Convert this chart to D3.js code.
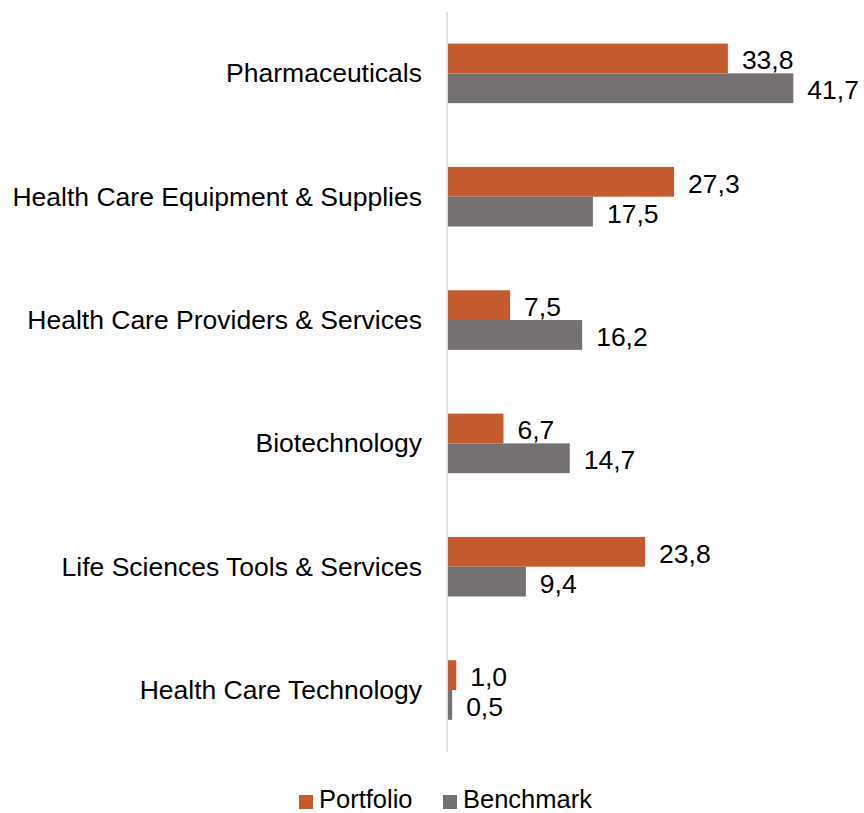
<!DOCTYPE html>
<html>
<head>
<meta charset="utf-8">
<script src="https://cdn.jsdelivr.net/npm/d3@7"></script>
<style>
  html, body { margin: 0; padding: 0; background: #fff; }
  svg { display: block; }
  text { font-family: "Liberation Sans", Arial, sans-serif; fill: #000; }
</style>
</head>
<body>
<svg id="chart" width="864" height="813"></svg>
<script>
// Sector weights (%), portfolio vs. benchmark
const categories = [
  "Pharmaceuticals",
  "Health Care Equipment & Supplies",
  "Health Care Providers & Services",
  "Biotechnology",
  "Life Sciences Tools & Services",
  "Health Care Technology"
];
const seriesNames = ["Portfolio", "Benchmark"];
const portfolio = [33.8, 27.3, 7.5, 6.7, 23.8, 1.0];
const benchmark = [41.7, 17.5, 16.2, 14.7, 9.4, 0.5];
const colors = ["#c55a2e", "#767171"];

const seriesValues = [portfolio, benchmark];
const rows = categories.map((c, i) => ({
  category: c,
  values: seriesNames.map((s, j) => ({ key: s, value: seriesValues[j][i] }))
}));

const svg = d3.select("#chart");
const margin = { top: 11.7, left: 448, bottom: 61.3, right: 0 };
const W = 864, H = 813;
const plotBottom = H - margin.bottom;

const locale = d3.formatLocale({ decimal: ",", thousands: ".", grouping: [3], currency: ["", "€"] });
const fmt = locale.format(".1f");

const x = d3.scaleLinear().domain([0, 41.7]).range([margin.left, 793.3]);

const y0 = d3.scaleBand()
  .domain(categories)
  .range([margin.top, plotBottom])
  .paddingInner(0.517)
  .paddingOuter(0.2585);

const y1 = d3.scaleBand()
  .domain(seriesNames)
  .range([0, y0.bandwidth()]);

const fontSize = 26.5;

// Bars
const groups = svg.append("g").selectAll("g")
  .data(rows)
  .join("g")
  .attr("transform", d => `translate(0,${y0(d.category)})`);

groups.selectAll("rect")
  .data(d => d.values)
  .join("rect")
  .attr("x", x(0))
  .attr("y", d => y1(d.key))
  .attr("width", d => x(d.value) - x(0))
  .attr("height", y1.bandwidth())
  .attr("fill", (d, i) => colors[i]);

// Value labels
groups.selectAll("text.val")
  .data(d => d.values)
  .join("text")
  .attr("class", "val")
  .attr("x", d => x(d.value) + 14)
  .attr("y", d => y1(d.key) + y1.bandwidth() / 2 + 2)
  .attr("dominant-baseline", "central")
  .style("font-size", fontSize + "px")
  .text(d => fmt(d.value));

// Category axis line
svg.append("line")
  .attr("x1", 447).attr("x2", 447)
  .attr("y1", margin.top).attr("y2", plotBottom)
  .attr("stroke", "#d9d9d9")
  .attr("stroke-width", 1.5);

// Category labels
const yAxis = d3.axisLeft(y0).tickSize(0).tickPadding(25);
const axisG = svg.append("g")
  .attr("transform", `translate(447,0)`)
  .call(yAxis);
axisG.select(".domain").remove();
axisG.selectAll("text")
  .attr("font-family", null)
  .attr("dy", null)
  .attr("dominant-baseline", "central")
  .style("font-size", fontSize + "px")
  .style("fill", "#000");

// Legend
const legendItems = [
  { name: "Portfolio", color: colors[0], x: 299 },
  { name: "Benchmark", color: colors[1], x: 443 }
];
const legend = svg.append("g");
const lg = legend.selectAll("g")
  .data(legendItems)
  .join("g")
  .attr("transform", d => `translate(${d.x},801)`);
lg.append("rect")
  .attr("x", 0).attr("y", -6)
  .attr("width", 14).attr("height", 14)
  .attr("fill", d => d.color);
lg.append("text")
  .attr("x", 20)
  .attr("y", -2)
  .attr("dominant-baseline", "central")
  .style("font-size", "25.5px")
  .text(d => d.name);
</script>
</body>
</html>
